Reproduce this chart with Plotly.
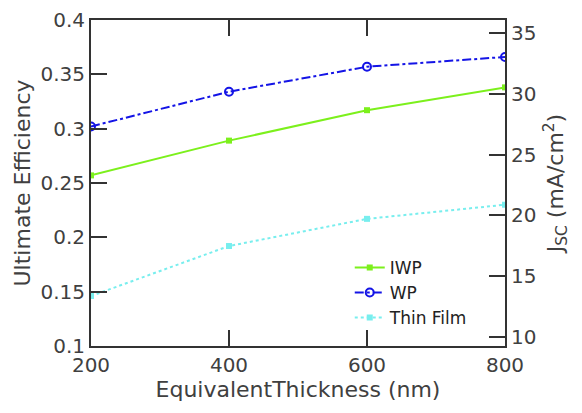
import plotly.graph_objects as go

thickness = [200, 400, 600, 800]
iwp = [0.257, 0.289, 0.317, 0.338]
wp = [0.302, 0.334, 0.357, 0.366]
thin_film = [0.146, 0.192, 0.217, 0.230]

eff_ticks = [0.1, 0.15, 0.2, 0.25, 0.3, 0.35, 0.4]
eff_labels = ["0.1", "0.15", "0.2", "0.25", "0.3", "0.35", "0.4"]
jsc_ticks = [10, 15, 20, 25, 30, 35]
x_ticks = [200, 400, 600, 800]

FONT = "DejaVu Sans"
TXT = "#404040"
AX = "#333333"

fig = go.Figure()
fig.add_trace(go.Scatter(x=thickness, y=iwp, name="IWP", mode="lines+markers",
                         line=dict(color="#7CF01C", width=2),
                         marker=dict(symbol="square", size=6, color="#7CF01C")))
fig.add_trace(go.Scatter(x=thickness, y=wp, name="WP", mode="lines+markers",
                         line=dict(color="#1414E6", width=2, dash="dashdot"),
                         marker=dict(symbol="circle-open", size=8, color="#1414E6",
                                     line=dict(width=2))))
fig.add_trace(go.Scatter(x=thickness, y=thin_film, name="Thin Film", mode="lines+markers",
                         line=dict(color="#78EEEE", width=2, dash="dot"),
                         marker=dict(symbol="square", size=6, color="#78EEEE")))
# secondary axis host (no marks)
fig.add_trace(go.Scatter(x=[None], y=[None], yaxis="y2", showlegend=False,
                         hoverinfo="skip", mode="lines"))

fig.update_layout(
    width=574, height=405,
    margin=dict(l=83, r=77, t=12, b=67, autoexpand=False),
    paper_bgcolor="white", plot_bgcolor="white",
    font=dict(family=FONT, size=20, color=TXT),
    showlegend=True,
    legend=dict(x=0.625, y=0.295, xanchor="left", yanchor="top",
                bgcolor="rgba(0,0,0,0)", font=dict(size=17, color="#222222"),
                itemwidth=30, tracegroupgap=0),
    xaxis=dict(range=[200, 800], tickvals=x_ticks, ticks="inside", ticklen=16,
               tickwidth=2, tickcolor=AX, showline=True, linecolor=AX, linewidth=2,
               mirror="ticks", showgrid=False, zeroline=False,
               ticklabeloverflow="allow",
               title=dict(text="EquivalentThickness (nm)", standoff=4,
                          font=dict(size=22, color=TXT)),
               tickfont=dict(size=20, color=TXT)),
    yaxis=dict(range=[0.1, 0.4], tickvals=eff_ticks, ticktext=eff_labels,
               ticks="inside", ticklen=16, tickwidth=2, tickcolor=AX,
               showline=True, linecolor=AX, linewidth=2, showgrid=False,
               zeroline=False, ticklabeloverflow="allow",
               title=dict(text="Ultimate Efficiency", standoff=4,
                          font=dict(size=22, color=TXT)),
               tickfont=dict(size=20, color=TXT)),
    yaxis2=dict(overlaying="y", side="right", range=[9.27, 36.05],
                tickvals=jsc_ticks, ticks="inside", ticklen=16, tickwidth=2,
                tickcolor=AX, showline=True, linecolor=AX, linewidth=2,
                showgrid=False, zeroline=False, ticklabeloverflow="allow",
                title=dict(text="J<sub>SC</sub> (mA/cm<sup>2</sup>)", standoff=12,
                           font=dict(size=22, color=TXT)),
                tickfont=dict(size=20, color=TXT)),
)

fig.write_html("out.html")
